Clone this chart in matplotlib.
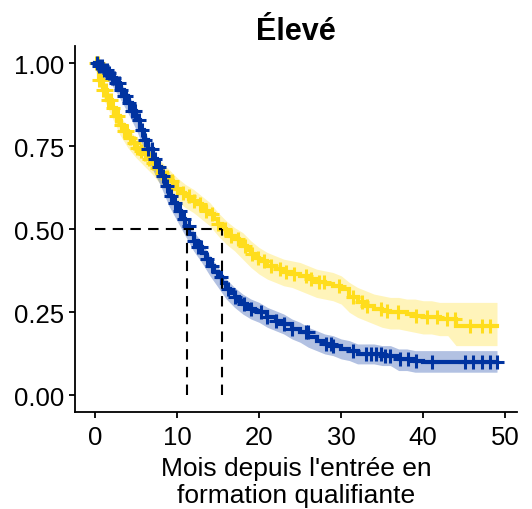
import numpy as np
import matplotlib
matplotlib.use("Agg")
import matplotlib.pyplot as plt

plt.rcParams['font.family'] = ['Liberation Sans', 'DejaVu Sans']

# temps (mois) : pas de 0.5 jusqu'a 20, puis mensuel
times = [0, 0.5, 1, 1.5, 2, 2.5, 3, 3.5, 4, 4.5, 5, 5.5, 6, 6.5, 7, 7.5, 8, 8.5,
         9, 9.5, 10, 10.5, 11, 11.5, 12, 12.5, 13, 13.5, 14, 14.5, 15, 15.5,
         16, 16.5, 17, 17.5, 18, 18.5, 19, 19.5, 20, 21, 22, 23, 24, 25, 26,
         27, 28, 29, 30, 31, 32, 33, 34, 35, 36, 37, 38, 39, 40, 41, 42, 43,
         44, 45, 46, 47, 48, 49]
# IC : grille mensuelle
band_months = list(range(0, 50))

# courbe jaune
yellow_surv = [1.00, 0.95, 0.92, 0.89, 0.865, 0.84, 0.815, 0.795, 0.775, 0.76,
               0.745, 0.735, 0.725, 0.712, 0.70, 0.685, 0.67, 0.657, 0.645, 0.632,
               0.62, 0.61, 0.60, 0.592, 0.585, 0.575, 0.565, 0.555, 0.545, 0.53,
               0.515, 0.50, 0.49, 0.48, 0.47, 0.46, 0.45, 0.437, 0.425, 0.415,
               0.405, 0.39, 0.38, 0.37, 0.365, 0.36, 0.35, 0.34, 0.335, 0.33,
               0.32, 0.295, 0.28, 0.27, 0.26, 0.255, 0.25, 0.25, 0.245, 0.24,
               0.235, 0.235, 0.23, 0.23, 0.21, 0.21, 0.21, 0.21, 0.21, 0.21]
yellow_lo = [0.985, 0.895, 0.84, 0.785, 0.745, 0.715, 0.69, 0.665, 0.635, 0.61,
             0.585, 0.565, 0.55, 0.53, 0.51, 0.48, 0.455, 0.435, 0.41, 0.385,
             0.365, 0.35, 0.34, 0.33, 0.325, 0.315, 0.305, 0.295, 0.29, 0.285,
             0.275, 0.25, 0.235, 0.225, 0.215, 0.205, 0.20, 0.20, 0.195, 0.19,
             0.185, 0.185, 0.18, 0.18, 0.15, 0.15, 0.15, 0.15, 0.15, 0.15]
yellow_hi = [1.00, 0.945, 0.89, 0.845, 0.805, 0.775, 0.76, 0.735, 0.705, 0.68,
             0.655, 0.635, 0.62, 0.60, 0.58, 0.55, 0.525, 0.505, 0.49, 0.465,
             0.445, 0.43, 0.42, 0.41, 0.405, 0.40, 0.39, 0.38, 0.375, 0.37,
             0.36, 0.34, 0.325, 0.315, 0.305, 0.30, 0.295, 0.295, 0.29, 0.29,
             0.285, 0.285, 0.28, 0.28, 0.28, 0.28, 0.28, 0.28, 0.28, 0.28]
yellow_censor = [0.1, 0.3, 0.5, 0.8, 1.0, 1.3, 1.6, 1.9, 2.2, 2.5, 2.8, 3.1,
                 3.5, 3.9, 4.3, 4.7, 5.1, 5.6, 6.1, 6.6, 7.1, 7.6, 8.2, 8.8,
                 9.4, 10.0, 10.7, 11.4, 12.1, 12.8, 13.5, 14.2, 15.0, 15.8,
                 16.6, 17.4, 18.3, 19.1, 19.8, 20.6, 21.4, 22.5, 23.3, 24.2,
                 25.7, 26.3, 27.3, 27.9, 29.7, 31.5, 32.6, 33.2, 34.8, 35.6,
                 36.9, 39.1, 40.5, 41.7, 42.9, 43.9, 45.7, 47.2, 48.2]
yellow_median = 15.5

# courbe bleue
blue_surv = [1.00, 0.99, 0.98, 0.97, 0.955, 0.94, 0.92, 0.90, 0.88, 0.857,
             0.83, 0.80, 0.77, 0.74, 0.71, 0.686, 0.66, 0.63, 0.60, 0.578,
             0.555, 0.532, 0.51, 0.487, 0.465, 0.447, 0.43, 0.41, 0.39, 0.372,
             0.355, 0.337, 0.32, 0.307, 0.295, 0.285, 0.275, 0.267, 0.26, 0.255,
             0.25, 0.235, 0.225, 0.215, 0.20, 0.19, 0.175, 0.165, 0.155, 0.15,
             0.14, 0.135, 0.125, 0.125, 0.125, 0.12, 0.12, 0.11, 0.11, 0.105,
             0.10, 0.10, 0.10, 0.10, 0.10, 0.10, 0.10, 0.10, 0.10, 0.10]
blue_lo = [0.99, 0.965, 0.935, 0.895, 0.85, 0.80, 0.74, 0.68, 0.63, 0.57,
           0.525, 0.48, 0.435, 0.40, 0.36, 0.325, 0.29, 0.265, 0.245, 0.23,
           0.22, 0.205, 0.195, 0.185, 0.17, 0.16, 0.145, 0.135, 0.125, 0.12,
           0.11, 0.105, 0.095, 0.095, 0.095, 0.09, 0.09, 0.075, 0.075, 0.07,
           0.07, 0.07, 0.07, 0.07, 0.07, 0.07, 0.07, 0.07, 0.07, 0.07]
blue_hi = [1.00, 0.99, 0.975, 0.945, 0.91, 0.86, 0.80, 0.74, 0.69, 0.63,
           0.585, 0.54, 0.495, 0.46, 0.42, 0.385, 0.35, 0.325, 0.305, 0.29,
           0.28, 0.265, 0.255, 0.245, 0.23, 0.22, 0.205, 0.195, 0.185, 0.18,
           0.17, 0.165, 0.155, 0.155, 0.155, 0.15, 0.15, 0.14, 0.14, 0.135,
           0.135, 0.135, 0.135, 0.135, 0.135, 0.135, 0.135, 0.135, 0.135, 0.135]
blue_censor = [0.2, 0.5, 0.8, 1.1, 1.4, 1.7, 2.0, 2.3, 2.6, 2.9, 3.2, 3.5,
               3.8, 4.1, 4.5, 4.9, 5.3, 5.7, 6.1, 6.5, 6.9, 7.3, 7.8, 8.3,
               8.8, 9.3, 9.8, 10.3, 10.8, 11.4, 12.0, 12.5, 12.9, 13.6, 14.3,
               15.3, 16.2, 17.0, 18.1, 19.0, 20.2, 21.0, 22.0, 23.0, 24.0,
               25.7, 25.9, 28.1, 28.7, 29.0, 31.5, 33.0, 33.6, 34.2, 34.8,
               35.4, 36.0, 37.2, 38.1, 39.1, 41.1, 45.1, 46.1, 47.2, 48.2, 49.0]
blue_median = 11.2

YELLOW = '#FFDD1C'
BLUE = '#0033A0'

fig = plt.figure(figsize=(5.32, 5.10), dpi=100)
ax = fig.add_axes([0.141, 0.190, 0.831, 0.717])

def draw_km(s, lo, hi, cens, col):
    t = np.array(times, dtype=float)
    s = np.array(s)
    # bande de confiance
    ax.fill_between(band_months, lo, hi, color=col, alpha=0.3, lw=0)
    ax.step(t, s, where='post', color=col, lw=3, solid_joinstyle='miter')
    cens = np.array(cens)
    idx = np.searchsorted(t, cens, side='right') - 1
    ax.plot(cens, s[idx], ls='none', marker='+', ms=10, mew=2.2, color=col)

draw_km(yellow_surv, yellow_lo, yellow_hi, yellow_censor, YELLOW)
draw_km(blue_surv, blue_lo, blue_hi, blue_censor, BLUE)

# medianes
dash = dict(color='black', lw=1.5, ls=(0, (5, 3.5)))
ax.plot([0, yellow_median], [0.5, 0.5], **dash)
ax.plot([blue_median, blue_median], [0, 0.5], **dash)
ax.plot([yellow_median, yellow_median], [0, 0.5], **dash)

ax.set_xlim(-2.45, 51.45)
ax.set_ylim(-0.05, 1.05)
ax.set_xticks([0, 10, 20, 30, 40, 50])
ax.set_yticks([0, 0.25, 0.5, 0.75, 1.0])
ax.set_yticklabels(['0.00', '0.25', '0.50', '0.75', '1.00'])
ax.spines['top'].set_visible(False)
ax.spines['right'].set_visible(False)
for sp in ['left', 'bottom']:
    ax.spines[sp].set_linewidth(1.3)
ax.tick_params(labelsize=18.5, width=1.3, length=4.5, colors='black')
ax.tick_params(axis='x', pad=5)
ax.tick_params(axis='y', pad=3)
ax.set_xlabel("Mois depuis l'entrée en\nformation qualifiante", fontsize=19,
              linespacing=1.15, labelpad=5)
ax.set_title('Élevé', fontsize=22, fontweight='bold', pad=1)

fig.savefig('out.png', dpi=100)
